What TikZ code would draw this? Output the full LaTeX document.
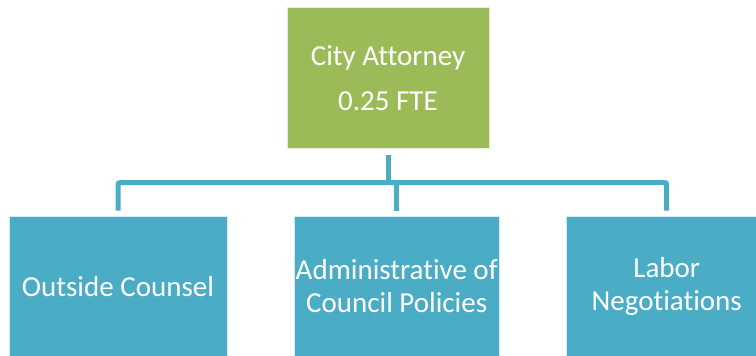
\documentclass[tikz,border=0pt]{standalone}
\usepackage{fontspec}
\setmainfont[Ligatures={NoCommon}]{Carlito}
\definecolor{boxgreen}{HTML}{9BBB59}
\definecolor{boxblue}{HTML}{4BACC6}
\begin{document}
\begin{tikzpicture}[x=1pt,y=-1pt,
  box/.style={rectangle, draw=white!75!#1, line width=0.8pt, fill=#1, text=white,
    minimum height=141pt, align=center, inner sep=0pt,
    font=\fontsize{29}{33}\selectfont},
  conn/.style={draw=boxblue, line width=5pt, rounded corners=2pt}]
\useasboundingbox (0,0) rectangle (756,356);
\begin{scope}
\clip (0,0) rectangle (756,356);
\node[box=boxgreen, minimum width=202pt] (top) at (388,78) {City Attorney\\[12pt]0.25 FTE};
\node[box=boxblue, minimum width=218pt] (outside) at (118,286.5) {Outside Counsel};
\node[box=boxblue, minimum width=205pt] (admin) at (396.7,286.5) {Administrative of\\Council Policies};
\node[box=boxblue, minimum width=201pt] (labor) at (666.7,286.5) {Labor\\Negotiations};
\draw[conn] ([yshift=-6pt]top.south) -- ([yshift=-34.3pt]top.south);
\draw[conn] ([yshift=5pt]outside.north) |- ([yshift=33pt]labor.north) -- ([yshift=5pt]labor.north);
\draw[conn] ([yshift=5pt]admin.north) -- ([yshift=33pt]admin.north);
\end{scope}
\end{tikzpicture}
\end{document}
